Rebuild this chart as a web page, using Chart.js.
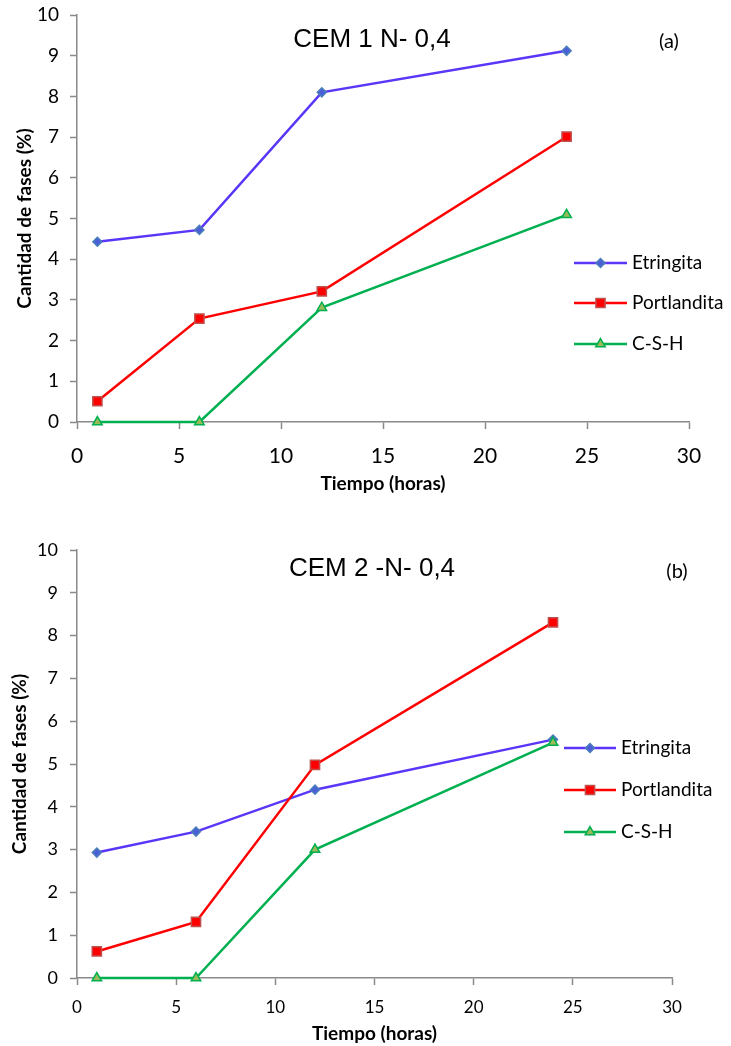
<!DOCTYPE html>
<html>
<head>
<meta charset="utf-8">
<title>Cantidad de fases</title>
<script src="https://cdn.jsdelivr.net/npm/chart.js@4.4.1/dist/chart.umd.min.js"></script>
<style>
  html, body { margin: 0; padding: 0; background: #fff; }
  #page { position: relative; width: 731px; height: 1046px; overflow: hidden; }
  .panel { position: absolute; left: 0; }
  #panel-a { top: 0; }
  #panel-b { top: 520px; }
</style>
</head>
<body>
<div id="page">
  <div class="panel" id="panel-a"><canvas id="chart-a" width="731" height="500"></canvas></div>
  <div class="panel" id="panel-b"><canvas id="chart-b" width="731" height="526"></canvas></div>
</div>
<script>
// hydration time (hours) and phase amounts (%)
const hours = [1, 6, 12, 24];
const seriesNames = ["Etringita", "Portlandita", "C-S-H"];

// CEM 1 N- 0,4
const cem1Etringita = [4.43, 4.72, 8.10, 9.12];
const cem1Portlandita = [0.51, 2.54, 3.21, 7.01];
const cem1CSH = [0, 0, 2.81, 5.09];

// CEM 2 -N- 0,4
const cem2Etringita = [2.93, 3.42, 4.40, 5.57];
const cem2Portlandita = [0.62, 1.31, 4.98, 8.31];
const cem2CSH = [0, 0, 3.00, 5.50];

const xTicks = [0, 5, 10, 15, 20, 25, 30];
const yTicks = [0, 1, 2, 3, 4, 5, 6, 7, 8, 9, 10];

const bodyFont = "Lato, 'Open Sans', sans-serif";

const seriesStyle = [
  { line: "#5a36f8", fill: "#4a5fd8", border: "#4a7ebb", point: "rectRot", radius: 4.5, order: 3 },
  { line: "#ff0000", fill: "#ff0000", border: "#c0504d", point: "rect", radius: 6.5, order: 2 },
  { line: "#00b050", fill: "#9bbb59", border: "#00b050", point: "triangle", radius: 5.5, order: 1 }
];

const toPoints = (values) => hours.map((h, i) => ({ x: h, y: values[i] }));

const buildDatasets = (valueLists) => valueLists.map((values, i) => {
  const s = seriesStyle[i];
  return {
    label: seriesNames[i],
    data: toPoints(values),
    showLine: true,
    tension: 0,
    borderColor: s.line,
    borderWidth: 2.5,
    pointStyle: s.point,
    pointRadius: s.radius,
    pointHoverRadius: s.radius,
    pointBackgroundColor: s.fill,
    pointBorderColor: s.border,
    pointBorderWidth: 1.5,
    order: s.order,
    clip: false
  };
});

// legend drawn inside the plot region: line sample + marker + label
const insideLegend = {
  id: "insideLegend",
  afterDatasetsDraw(chart, args, opts) {
    const ctx = chart.ctx;
    ctx.save();
    ctx.font = opts.fontSize + "px " + bodyFont;
    ctx.textBaseline = "middle";
    ctx.textAlign = "left";
    chart.data.datasets.forEach((ds, i) => {
      const y = opts.rows[i];
      ctx.strokeStyle = ds.borderColor;
      ctx.lineWidth = 2.5;
      ctx.beginPath();
      ctx.moveTo(opts.x0, y);
      ctx.lineTo(opts.x1, y);
      ctx.stroke();
      ctx.fillStyle = ds.pointBackgroundColor;
      ctx.strokeStyle = ds.pointBorderColor;
      ctx.lineWidth = ds.pointBorderWidth;
      Chart.helpers.drawPoint(ctx, {
        pointStyle: ds.pointStyle,
        radius: ds.pointRadius,
        borderWidth: ds.pointBorderWidth,
        rotation: 0
      }, (opts.x0 + opts.x1) / 2, y);
      ctx.fillStyle = "#000";
      ctx.fillText(ds.label, opts.textX, y);
    });
    ctx.restore();
  }
};

// panel heading and (a)/(b) tag
const panelText = {
  id: "panelText",
  afterDraw(chart, args, opts) {
    const ctx = chart.ctx;
    ctx.save();
    ctx.fillStyle = "#000";
    ctx.textAlign = "center";
    ctx.textBaseline = "alphabetic";
    ctx.font = "26px 'Liberation Sans', Arial, sans-serif";
    ctx.fillText(opts.title, opts.titleX, opts.titleY);
    ctx.textBaseline = "middle";
    ctx.font = "20px " + bodyFont;
    ctx.fillText(opts.tag, opts.tagX, opts.tagY);
    ctx.restore();
  }
};

const makeChart = (canvasId, valueLists, look) => {
  const axisGrey = "#8a8a8a";
  const config = {
    type: "scatter",
    data: { datasets: buildDatasets(valueLists) },
    options: {
      responsive: false,
      animation: false,
      events: [],
      layout: { padding: { top: look.padTop, right: look.padRight, left: 0, bottom: 0 } },
      scales: {
        x: {
          type: "linear",
          min: xTicks[0],
          max: xTicks[xTicks.length - 1],
          afterBuildTicks: (scale) => { scale.ticks = xTicks.map(v => ({ value: v })); },
          afterFit: (scale) => {
            scale.height = look.xHeight;
            scale.paddingLeft = 0;
            scale.paddingRight = 0;
          },
          border: { color: axisGrey, width: 1.5 },
          grid: { drawOnChartArea: false, color: axisGrey, tickLength: 7, tickWidth: 1.5 },
          ticks: { color: "#000", padding: look.xTickPad, maxRotation: 0, font: { family: bodyFont, size: look.xTickSize } },
          title: {
            display: true,
            text: "Tiempo (horas)",
            color: "#000",
            padding: { top: 0, bottom: look.xTitlePad },
            font: { family: bodyFont, size: 19, weight: "bold" }
          }
        },
        y: {
          type: "linear",
          min: yTicks[0],
          max: yTicks[yTicks.length - 1],
          afterBuildTicks: (scale) => { scale.ticks = yTicks.map(v => ({ value: v })); },
          afterFit: (scale) => {
            scale.width = 77;
            scale.paddingTop = 0;
            scale.paddingBottom = 0;
          },
          border: { color: axisGrey, width: 1.5 },
          grid: { drawOnChartArea: false, color: axisGrey, tickLength: 7, tickWidth: 1.5 },
          ticks: { color: "#000", padding: look.yTickPad, font: { family: bodyFont, size: look.yTickSize } },
          title: {
            display: true,
            text: "Cantidad de fases (%)",
            color: "#000",
            padding: { top: look.yTitlePad, bottom: 0 },
            font: { family: bodyFont, size: 19, weight: "bold" }
          }
        }
      },
      plugins: {
        legend: { display: false },
        tooltip: { enabled: false },
        insideLegend: look.legend,
        panelText: look.text
      }
    },
    plugins: [insideLegend, panelText]
  };
  return new Chart(document.getElementById(canvasId), config);
};

makeChart("chart-a", [cem1Etringita, cem1Portlandita, cem1CSH], {
  padTop: 15, padRight: 42, xHeight: 78,
  xTickSize: 21, xTickPad: 15, yTickSize: 19, yTickPad: 11,
  xTitlePad: 5, yTitlePad: 13,
  legend: { x0: 574, x1: 627, textX: 632, rows: [263, 303, 344], fontSize: 19 },
  text: { title: "CEM 1 N- 0,4", titleX: 372, titleY: 47, tag: "(a)", tagX: 669, tagY: 42 }
});

makeChart("chart-b", [cem2Etringita, cem2Portlandita, cem2CSH], {
  padTop: 30, padRight: 59, xHeight: 68,
  xTickSize: 17, xTickPad: 12, yTickSize: 18, yTickPad: 12,
  xTitlePad: 1, yTitlePad: 8,
  legend: { x0: 564, x1: 616, textX: 621, rows: [228, 270, 312], fontSize: 19 },
  text: { title: "CEM 2 -N- 0,4", titleX: 372, titleY: 56, tag: "(b)", tagX: 677, tagY: 52 }
});
</script>
</body>
</html>
